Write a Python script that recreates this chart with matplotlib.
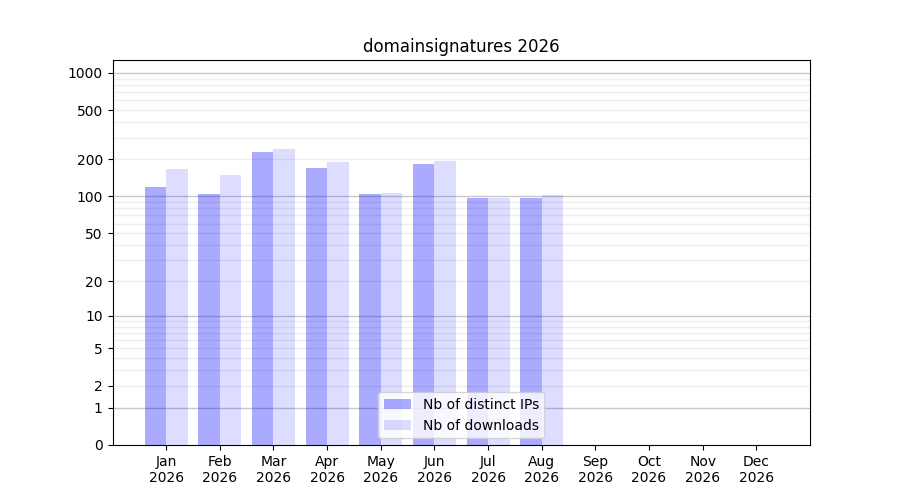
import numpy as np
import matplotlib
matplotlib.use("Agg")
from matplotlib import pyplot as plt

months = ["Jan", "Feb", "Mar", "Apr", "May", "Jun", "Jul", "Aug", "Sep", "Oct", "Nov", "Dec"]
year = 2026
distinct_ips = [120, 105, 229, 170, 105, 184, 97, 97, 0, 0, 0, 0]
downloads = [167, 149, 243, 190, 106, 194, 97, 103, 0, 0, 0, 0]
yticks = [0, 1, 2, 5, 10, 20, 50, 100, 200, 500, 1000]

fig, ax = plt.subplots(figsize=(9, 5), dpi=100)
ax.set_yscale("function", functions=(lambda v: np.log10(np.maximum(v, 0) + 1),
                                     lambda v: 10 ** v - 1))

x = np.arange(len(months))
ax.bar(x - 0.2, distinct_ips, width=0.4, color="blue", alpha=1/3, label="Nb of distinct IPs")
ax.bar(x + 0.2, downloads, width=0.4, color="blue", alpha=0.133, label="Nb of downloads")

# grid: decades darker, the rest light
major = [1, 10, 100, 1000]
minor = [m * 10 ** k for k in range(3) for m in range(2, 10)]
for v in minor:
    ax.axhline(v, color="#eeeeee", lw=1, zorder=0)
for v in major:
    ax.axhline(v, color="#c8c8c8", lw=1, zorder=0)

ax.set_yticks(yticks)
ax.set_yticklabels([str(t) for t in yticks])
ax.minorticks_off()
ax.set_ylim(0, 1270)
ax.set_xlim(-1, 12)
ax.set_xticks(x)
ax.set_xticklabels([f"{m}\n{year}" for m in months])
ax.set_title(f"domainsignatures {year}")
ax.legend(loc="lower center")

fig.savefig("out.png")
